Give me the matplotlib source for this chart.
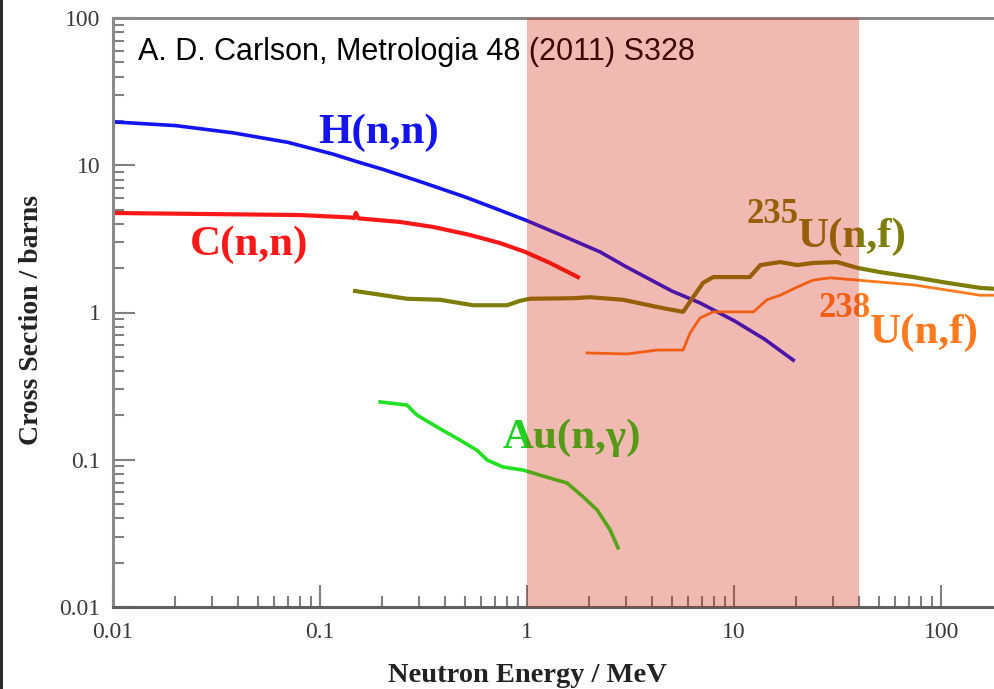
import numpy as np
import matplotlib
matplotlib.use('Agg')
import matplotlib.pyplot as plt
from matplotlib.patches import Rectangle

plt.rcParams['font.family'] = ['Liberation Serif', 'DejaVu Serif']

# cross sections (energy in MeV, sigma in barns)
h_energy = [0.01, 0.02, 0.038, 0.07, 0.1156, 0.15, 0.2, 0.3, 0.5, 0.7, 1.0, 1.5,
            2.25, 3.0, 5.0, 6.86, 10, 14, 19.3]
h_sigma = [19.7, 18.6, 16.6, 14.3, 11.9, 10.6, 9.4, 7.8, 6.1, 5.1, 4.2, 3.3,
           2.58, 2.05, 1.4, 1.16, 0.88, 0.66, 0.475]

c_energy = [0.01, 0.0263, 0.080, 0.140, 0.146, 0.149, 0.153, 0.243, 0.352, 0.531,
            0.741, 0.978, 1.29, 1.76]
c_sigma = [4.74, 4.67, 4.59, 4.42, 4.38, 4.75, 4.36, 4.12, 3.81, 3.36,
           2.96, 2.58, 2.17, 1.74]

u235_energy = [0.1476, 0.263, 0.380, 0.548, 0.80, 0.924, 1.03, 1.67, 2.01, 2.91, 4.25,
               5.67, 6.34, 7.08, 7.92, 11.9, 13.4, 16.7, 20.2, 24.1, 31.5, 39.3,
               50.7, 73.3, 107, 154, 180]
u235_sigma = [1.40, 1.24, 1.22, 1.12, 1.12, 1.20, 1.24, 1.25, 1.27, 1.22, 1.09,
              1.01, 1.27, 1.59, 1.74, 1.74, 2.10, 2.20, 2.10, 2.17, 2.20, 2.01,
              1.88, 1.74, 1.59, 1.47, 1.45]

u238_energy = [1.95, 3.04, 4.25, 5.67, 6.13, 6.85, 7.92, 12.4, 14.4, 16.7, 20.2,
               24.1, 29.1, 39.3, 50.7, 73.3, 107, 154, 180]
u238_sigma = [0.531, 0.523, 0.556, 0.556, 0.726, 0.918, 1.01, 1.01, 1.22, 1.31, 1.49,
              1.66, 1.72, 1.66, 1.61, 1.54, 1.42, 1.31, 1.31]

au_energy = [0.195, 0.263, 0.294, 0.367, 0.474, 0.573, 0.641, 0.765, 0.957, 1.29,
             1.56, 1.87, 2.18, 2.52, 2.75]
au_sigma = [0.247, 0.235, 0.201, 0.167, 0.136, 0.116, 0.0996, 0.0893, 0.0851, 0.0751,
            0.0695, 0.0558, 0.0456, 0.0333, 0.0252]

tick_values = [0.01, 0.1, 1, 10, 100]
tick_labels = ['0.01', '0.1', '1', '10', '100']

band = (1, 40)

fig = plt.figure(figsize=(9.94, 6.89), dpi=100)
ax = fig.add_axes([113 / 994, 82 / 689, 881 / 994, 589 / 689])

ax.plot(h_energy, h_sigma, color='#1414f0', lw=2.6, solid_joinstyle='round')
ax.plot(c_energy, c_sigma, color='#fa1818', lw=3.0, solid_joinstyle='round')
ax.plot(u235_energy, u235_sigma, color='#7d7d0a', lw=3.0, solid_joinstyle='round')
ax.plot(u238_energy, u238_sigma, color='#ff7a1e', lw=2.0, solid_joinstyle='round')
ax.plot(au_energy, au_sigma, color='#22e022', lw=2.6, solid_joinstyle='round')

ax.axvspan(band[0], band[1], color='#d01a00', alpha=0.3, lw=0, zorder=10)

label_font = dict(fontsize=31, fontweight='bold')
ax.text(0.098, 14.2, 'H(n,n)', color='#1414f0', **label_font)
ax.text(0.0236, 2.45, 'C(n,n)', color='#fa1818', **label_font)
ax.text(20.4, 2.79, 'U(n,f)', color='#7d7d0a', **label_font)
ax.text(20.4, 4.05, '235', color='#7d7d0a', ha='right', fontsize=25, fontweight='bold')
ax.text(45.4, 0.621, 'U(n,f)', color='#ff7a1e', **label_font)
ax.text(45.4, 0.931, '238', color='#ff7a1e', ha='right', fontsize=25, fontweight='bold')
ax.text(0.766, 0.120, 'Au(n,\u03b3)', color='#22d022', **label_font)

ax.text(0.028, 0.929, 'A. D. Carlson, Metrologia 48 (2011) S328', transform=ax.transAxes,
        family='Liberation Sans', fontsize=22, color='black')

ax.set_xscale('log')
ax.set_yscale('log')
ax.set_xlim(0.01, 180)
ax.set_ylim(0.01, 100)
ax.set_xticks(tick_values)
ax.set_xticklabels(tick_labels)
ax.set_yticks(tick_values)
ax.set_yticklabels(tick_labels)

ax.tick_params(which='major', direction='in', length=16, width=1.5, color='#808080',
               labelsize=17, labelcolor='#3a3a3a')
ax.tick_params(which='minor', direction='in', length=8, width=1.5, color='#808080')
ax.tick_params(axis='x', which='major', pad=11)
ax.tick_params(axis='y', which='major', pad=9)

for side in ['left', 'bottom', 'top']:
    ax.spines[side].set_color('#8a8a8a')
    ax.spines[side].set_linewidth(2.2)
ax.spines['bottom'].set_color('#606060')
ax.spines['right'].set_visible(False)

ax.set_xlabel('Neutron Energy / MeV', fontsize=20.5, fontweight='bold', color='#222222')
ax.set_ylabel('Cross Section / barns', fontsize=20, fontweight='bold', color='#222222')
ax.xaxis.set_label_coords(0.47, -0.095)
ax.yaxis.set_label_coords(-0.078, 0.487)

# dark edge on the left of the picture
fig.add_artist(Rectangle((0, 0), 3 / 994, 1, transform=fig.transFigure,
                         color='#2a2a2a', lw=0))

plt.savefig('out.png', dpi=100)
